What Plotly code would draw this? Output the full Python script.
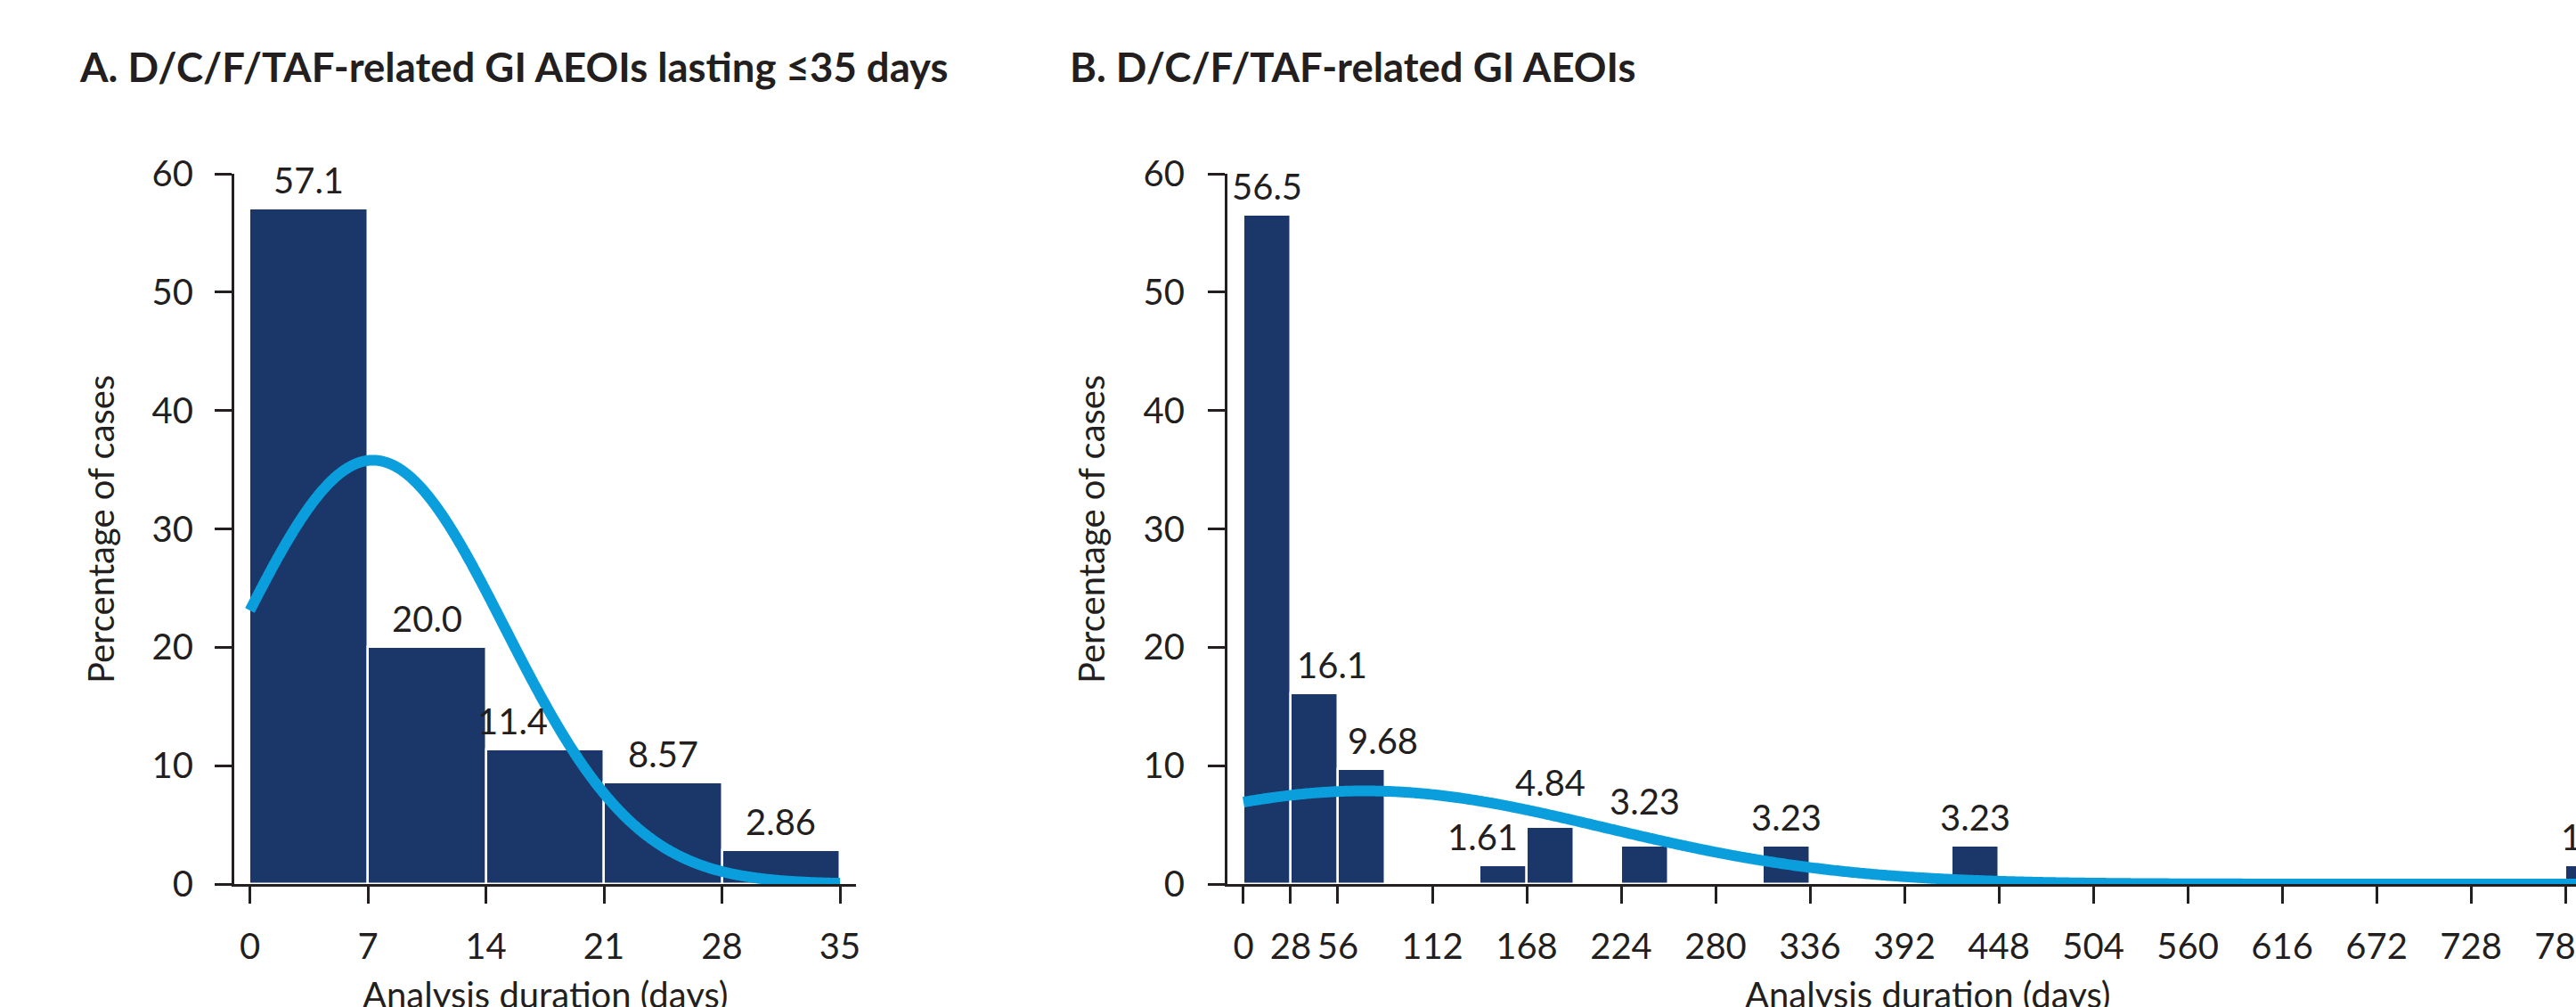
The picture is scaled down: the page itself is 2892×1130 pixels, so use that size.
import numpy as np
import plotly.graph_objects as go

# ---- data -------------------------------------------------------------
# Panel A: AEOIs lasting <=35 days, 7-day bins
a_bin_left = [0, 7, 14, 21, 28]
a_bin_width = 7
a_pct = [57.1, 20.0, 11.4, 8.57, 2.86]
a_labels = ["57.1", "20.0", "11.4", "8.57", "2.86"]
a_ticks = [0, 7, 14, 21, 28, 35]
a_fit_mean, a_fit_sd = 7.3, 7.8

# Panel B: all AEOIs, 28-day bins (only non-empty bins)
b_bin_left = [0, 28, 56, 140, 168, 224, 308, 420, 784]
b_bin_width = 28
b_pct = [56.5, 16.1, 9.68, 1.61, 4.84, 3.23, 3.23, 3.23, 1.61]
b_labels = ["56.5", "16.1", "9.68", "1.61", "4.84", "3.23", "3.23", "3.23", "1.61"]
b_ticks = [0, 28, 56, 112, 168, 224, 280, 336, 392, 448, 504, 560, 616, 672, 728, 784]
b_fit_mean, b_fit_sd = 72, 142

y_ticks = [0, 10, 20, 30, 40, 50, 60]

title_a = "A. D/C/F/TAF-related GI AEOIs lasting \u226435 days"
title_b = "B. D/C/F/TAF-related GI AEOIs"
x_title = "Analysis duration (days)"
y_title = "Percentage of cases"

# ---- style ------------------------------------------------------------
W, H = 2892, 1130
NAVY = "#1b3668"
BLUE = "#0a9fdc"
INK = "#231f20"
FONT = "Lato"
FS = 40

# label nudges (px) where the curve or neighbours get in the way
a_nudge = {2: (-36, 0)}
b_nudge = {1: (20, 0), 2: (24, 0), 3: (-23, 0), 4: (0, 18), 5: (0, 18)}


def px(v, total):
    return v / total


fig = go.Figure()


def add_panel(xa, ya, left, width, pct, labels, mean, sd, xmax_curve, nudge, edge_left=None):
    centers = [l + width / 2 for l in left]
    fig.add_trace(go.Bar(
        x=centers, y=pct, width=width,
        marker=dict(color=NAVY, line=dict(color="white", width=2.5)),
        xaxis=xa, yaxis=ya, showlegend=False, hoverinfo="skip",
    ))
    xs = np.linspace(0, xmax_curve, 800)
    scale = 100.0 * width / (sd * np.sqrt(2 * np.pi))
    ys = scale * np.exp(-0.5 * ((xs - mean) / sd) ** 2)
    fig.add_trace(go.Scatter(
        x=xs, y=ys, mode="lines",
        line=dict(color=BLUE, width=12, simplify=False),
        xaxis=xa, yaxis=ya, showlegend=False, hoverinfo="skip",
    ))
    xr = "x" if xa == "x" else "x2"
    yr = "y" if ya == "y" else "y2"
    for i, (c, v, t) in enumerate(zip(centers, pct, labels)):
        dx, dy = nudge.get(i, (0, 0))
        xanchor = "center"
        xpos = c
        if edge_left is not None and i == len(centers) - 1:
            xpos, xanchor, dx = left[i], "left", edge_left
        fig.add_annotation(
            x=xpos, y=v, xref=xr, yref=yr, text=t, showarrow=False,
            xanchor=xanchor, yanchor="bottom", xshift=dx, yshift=6 + dy,
            font=dict(family=FONT, size=FS, color=INK),
        )


add_panel("x", "y", a_bin_left, a_bin_width, a_pct, a_labels,
          a_fit_mean, a_fit_sd, 35, a_nudge)
add_panel("x2", "y2", b_bin_left, b_bin_width, b_pct, b_labels,
          b_fit_mean, b_fit_sd, 830, b_nudge, edge_left=-7)

axis_common = dict(
    showline=True, linecolor=INK, linewidth=3,
    ticks="outside", ticklen=19, tickwidth=3, tickcolor=INK,
    showgrid=False, zeroline=False, automargin=False,
    ticklabeloverflow="allow",
    tickfont=dict(family=FONT, size=FS, color=INK),
)

y_dom = [px(H - 992, H), px(H - 195, H)]
fig.update_layout(
    width=W, height=H, margin=dict(l=0, r=0, t=0, b=0, autoexpand=False),
    paper_bgcolor="white", plot_bgcolor="white", bargap=0,
    xaxis=dict(domain=[px(263, W), px(961, W)], range=[-0.924, 35.95],
               tickvals=a_ticks, ticklabelstandoff=14, anchor="y", **axis_common),
    yaxis=dict(domain=y_dom, range=[0, 60], tickvals=y_ticks,
               ticklabelstandoff=16, anchor="x", **axis_common),
    xaxis2=dict(domain=[px(1378, W), 1.0], range=[-9.5, 790.3],
                tickvals=b_ticks, ticklabelstandoff=14, anchor="y2", **axis_common),
    yaxis2=dict(domain=y_dom, range=[0, 60], tickvals=y_ticks,
                ticklabelstandoff=18, anchor="x2", **axis_common),
)

# panel titles
for txt, x0 in [(title_a, 87), (title_b, 1199)]:
    fig.add_annotation(x=px(x0, W), y=px(H - 75, H), xref="paper", yref="paper",
                       text="<b>" + txt + "</b>", showarrow=False,
                       xanchor="left", yanchor="middle",
                       font=dict(family=FONT, size=45.5, color=INK))

# axis titles
for x0 in [612, 2164]:
    fig.add_annotation(x=px(x0, W), y=px(H - 1116, H), xref="paper", yref="paper",
                       text=x_title, showarrow=False, xanchor="center", yanchor="middle",
                       font=dict(family=FONT, size=FS, color=INK))
for x0 in [113, 1225]:
    fig.add_annotation(x=px(x0, W), y=px(H - 594, H), xref="paper", yref="paper",
                       text=y_title, showarrow=False, textangle=-90,
                       xanchor="center", yanchor="middle",
                       font=dict(family=FONT, size=FS, color=INK))

fig.write_html("out.html")
